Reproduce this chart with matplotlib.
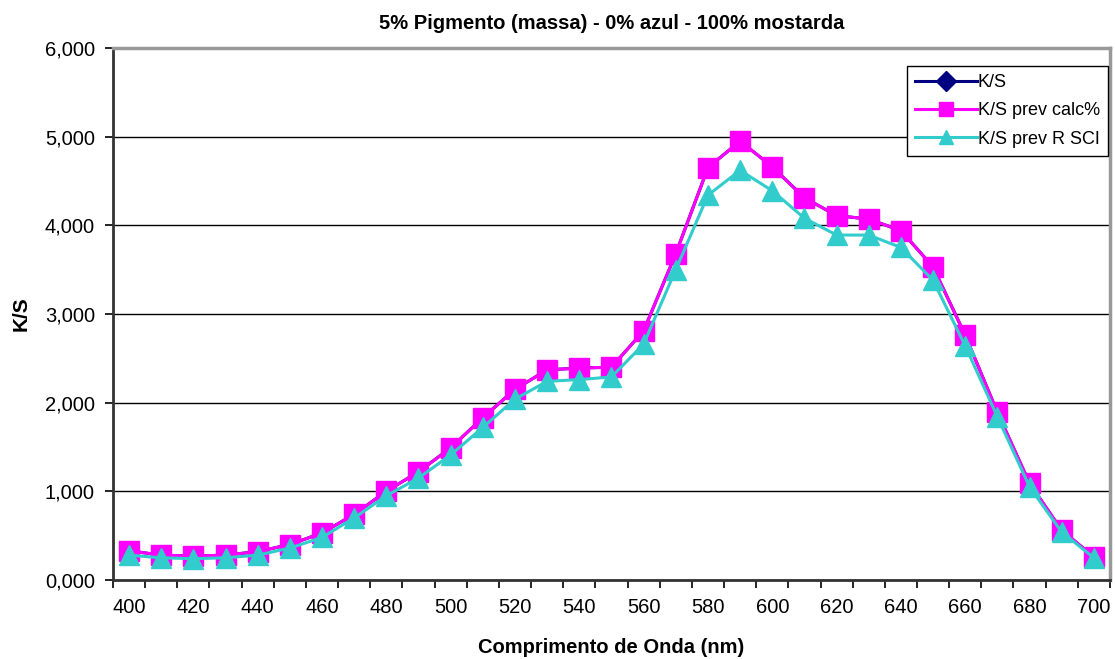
import numpy as np
import matplotlib.pyplot as plt
from matplotlib.ticker import FixedLocator

plt.rcParams['font.family'] = ['Liberation Sans', 'DejaVu Sans']

comprimento = list(range(400, 701, 10))

ks_calc = [0.33, 0.28, 0.27, 0.28, 0.32, 0.40, 0.53, 0.74, 1.00, 1.22,
           1.49, 1.83, 2.15, 2.37, 2.39, 2.40, 2.81, 3.68, 4.65, 4.95,
           4.66, 4.31, 4.11, 4.07, 3.94, 3.53, 2.76, 1.89, 1.09, 0.56, 0.26]
ks = list(ks_calc)
ks_sci = [0.28, 0.25, 0.24, 0.25, 0.28, 0.36, 0.48, 0.70, 0.95, 1.15,
          1.41, 1.72, 2.04, 2.24, 2.26, 2.29, 2.66, 3.50, 4.34, 4.62,
          4.39, 4.08, 3.89, 3.89, 3.75, 3.38, 2.64, 1.84, 1.05, 0.54, 0.25]

yticks = [0, 1, 2, 3, 4, 5, 6]
ylabels = ['0,000', '1,000', '2,000', '3,000', '4,000', '5,000', '6,000']

fig = plt.figure(figsize=(11.15, 6.59), dpi=100)
ax = fig.add_axes([0.1013, 0.1199, 0.8942, 0.8073])

x = np.arange(len(comprimento))
ax.plot(x, ks, color='#000080', marker='D', markersize=9, linewidth=2.2, label='K/S', zorder=3)
ax.plot(x, ks_calc, color='#FF00FF', marker='s', markersize=14, linewidth=2.2, label='K/S prev calc%', zorder=4)
ax.plot(x, ks_sci, color='#33CCCC', marker='^', markersize=15, linewidth=2.2, label='K/S prev R SCI', zorder=5)

ax.set_xlim(-0.5, len(comprimento) - 0.5)
ax.set_ylim(0, 6)
ax.set_yticks(yticks)
ax.set_yticklabels(ylabels, fontsize=14.5)
ax.yaxis.grid(True, color='black', linewidth=1)
ax.set_axisbelow(True)

ax.set_xticks(x[::2])
ax.set_xticklabels([str(c) for c in comprimento[::2]], fontsize=14.5)
ax.xaxis.set_minor_locator(FixedLocator(np.arange(-0.5, len(comprimento), 1)))
ax.tick_params(axis='x', which='major', length=0, pad=13)
ax.tick_params(axis='x', which='minor', length=6, width=1.2, color='black')
ax.tick_params(axis='y', length=6, width=1.2, pad=7)

for s in ['left', 'bottom']:
    ax.spines[s].set_color('#333333')
    ax.spines[s].set_linewidth(2)
for s in ['top', 'right']:
    ax.spines[s].set_color('#999999')
    ax.spines[s].set_linewidth(2.5)

ax.set_title('5% Pigmento (massa) - 0% azul - 100% mostarda', fontsize=14.5,
             fontweight='bold', pad=14)
ax.set_xlabel('Comprimento de Onda (nm)', fontsize=14.5, fontweight='bold', labelpad=15)
ax.set_ylabel('K/S', fontsize=15, fontweight='bold', labelpad=10)

leg = ax.legend(loc='upper right', bbox_to_anchor=(0.998, 0.966), fontsize=13,
                frameon=True, fancybox=False, edgecolor='black', framealpha=1,
                borderpad=0.45, handlelength=3.4, labelspacing=0.62, handletextpad=0.05,
                borderaxespad=0)
leg.get_frame().set_linewidth(1)
for h in leg.legend_handles:
    h.set_markersize(10)

fig.savefig('out.png', dpi=100)
